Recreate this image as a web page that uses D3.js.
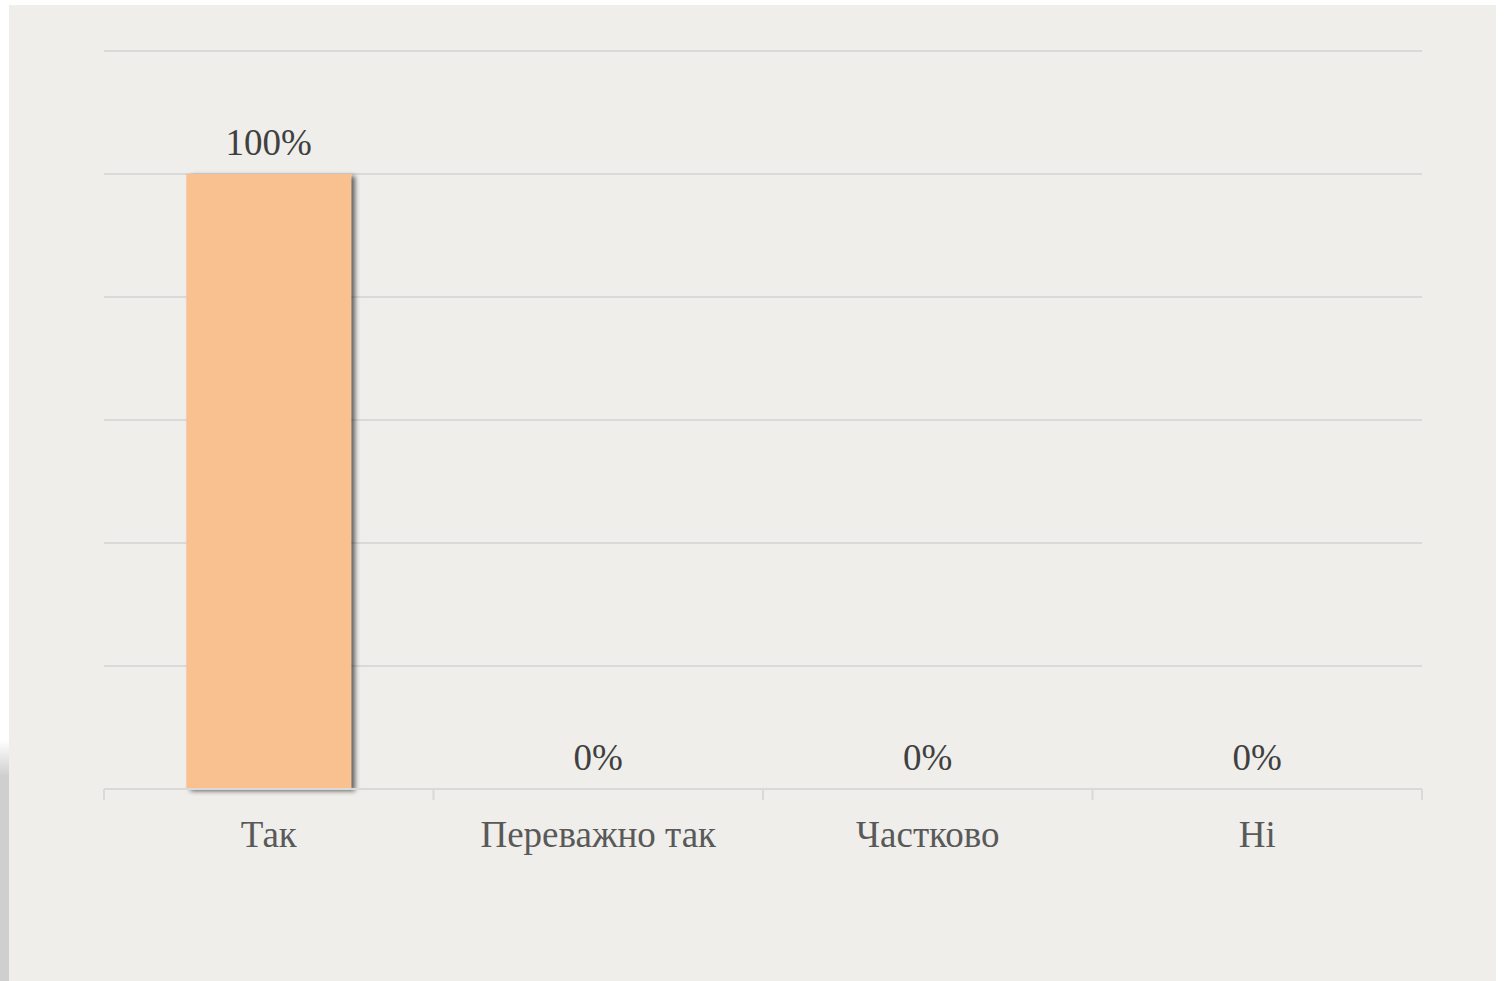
<!DOCTYPE html>
<html><head><meta charset="utf-8">
<script src="https://cdn.jsdelivr.net/npm/d3@7"></script>
<style>html,body{margin:0;padding:0;background:#fff;overflow:hidden}</style>
</head><body>
<svg id="c" width="1509" height="981"></svg>
<script>
const categories = ["Так", "Переважно так", "Частково", "Ні"];
const values = [100, 0, 0, 0];
const valueLabels = ["100%", "0%", "0%", "0%"];
const yTicks = [0, 20, 40, 60, 80, 100, 120];

const svg = d3.select("#c");
const defs = svg.append("defs");
const f = defs.append("filter").attr("id","sh").attr("x","-20%").attr("y","-20%").attr("width","140%").attr("height","140%");
f.append("feGaussianBlur").attr("in","SourceAlpha").attr("stdDeviation",2.5).attr("result","b");
f.append("feOffset").attr("in","b").attr("dx",4).attr("dy",2).attr("result","o");
f.append("feComponentTransfer").attr("in","o").attr("result","o2").append("feFuncA").attr("type","linear").attr("slope",0.6);
const m = f.append("feMerge"); m.append("feMergeNode").attr("in","o2"); m.append("feMergeNode").attr("in","SourceGraphic");
const g2 = defs.append("linearGradient").attr("id","lg").attr("x1",0).attr("y1",0).attr("x2",0).attr("y2",1);
g2.append("stop").attr("offset","0").attr("stop-color","#cfcfcf").attr("stop-opacity",0);
g2.append("stop").attr("offset","0.15").attr("stop-color","#cfcfcf").attr("stop-opacity",1);
g2.append("stop").attr("offset","1").attr("stop-color","#cfcfcf").attr("stop-opacity",1);

svg.append("rect").attr("x",0).attr("y",740).attr("width",10).attr("height",241).attr("fill","url(#lg)");
svg.append("rect").attr("x",9).attr("y",5).attr("width",1487).attr("height",976).attr("fill","#efeeea");

const x = d3.scaleBand().domain(categories).range([104,1422]).paddingInner(0).paddingOuter(0);
const y = d3.scaleLinear().domain([0,120]).range([789,51]);

const grid = svg.append("g");
grid.selectAll("line").data(yTicks.filter(d=>d>0)).join("line")
  .attr("x1",104).attr("x2",1422).attr("y1",d=>y(d)).attr("y2",d=>y(d))
  .attr("stroke","#d9d9d9").attr("stroke-width",2);

const bw = x.bandwidth()*0.5;
svg.append("g").selectAll("rect").data(categories).join("rect")
  .attr("x",(d)=>x(d)+(x.bandwidth()-bw)/2)
  .attr("y",(d,i)=>y(values[i]))
  .attr("width",bw)
  .attr("height",(d,i)=>y(0)-y(values[i]))
  .attr("fill","#f9c090")
  .attr("filter","url(#sh)");

const ax = svg.append("g").attr("transform","translate(0,789)")
  .call(d3.axisBottom(x).tickSize(0).tickFormat(""));
ax.select(".domain").attr("stroke","#d9d9d9").attr("stroke-width",2).attr("d","M104,0H1422");
const edges = categories.map(c=>x(c)).concat([x.range()[1]]);
ax.selectAll(".edge").data(edges).join("line").attr("class","edge")
  .attr("x1",d=>d).attr("x2",d=>d).attr("y1",0).attr("y2",11)
  .attr("stroke","#d9d9d9").attr("stroke-width",2);

svg.append("g").selectAll("text").data(categories).join("text")
  .attr("x",d=>x(d)+x.bandwidth()/2).attr("y",847)
  .attr("text-anchor","middle").attr("font-family","'Liberation Serif', serif")
  .attr("font-size",37).attr("fill","#595959").text(d=>d);

svg.append("g").selectAll("text").data(categories).join("text")
  .attr("x",d=>x(d)+x.bandwidth()/2).attr("y",(d,i)=>y(values[i])-19)
  .attr("text-anchor","middle").attr("font-family","'Liberation Serif', serif")
  .attr("font-size",37).attr("fill","#404040").text((d,i)=>valueLabels[i]);
</script>
</body></html>
